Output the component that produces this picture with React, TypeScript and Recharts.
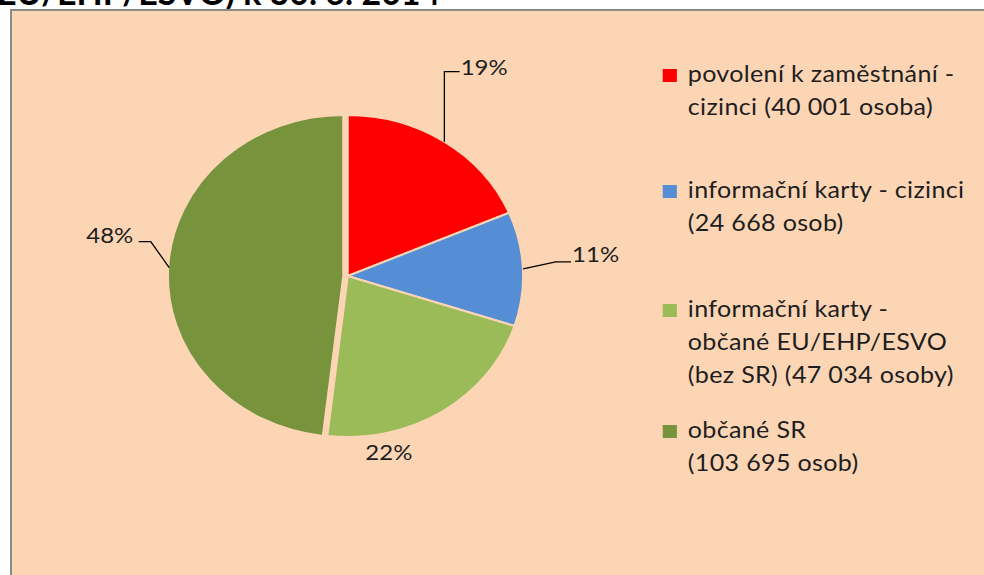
import { PieChart, Pie, Cell, Legend } from 'recharts';

// zaměstnanci podle typu oprávnění k 30. 6. 2014
const categories = [
  'povolení k zaměstnání -\ncizinci (40 001 osoba)',
  'informační karty - cizinci\n(24 668 osob)',
  'informační karty -\nobčané EU/EHP/ESVO\n(bez SR) (47 034 osoby)',
  'občané SR\n(103 695 osob)',
];
const persons = [40001, 24668, 47034, 103695];
const COLORS = ['#FF0000', '#558ED5', '#9BBB59', '#77933C'];

const data = categories.map((name, i) => ({ name, value: persons[i] }));

const BG = '#FCD5B5';
const TEXT = '#1e1e1e';
const FONT = 'Lato, "Open Sans", sans-serif';
const RADIAN = Math.PI / 180;

// leader line points and text offset, relative to the slice's outer mid point
const LABEL_LAYOUT = [
  { path: [[0, 0], [0, -70], [14, -70]], text: [15, -67], anchor: 'start' },
  { path: [[0, 0], [30, -7], [44, -7]], text: [45, -7], anchor: 'start' },
  { path: [], text: [-49, 48], anchor: 'middle' },
  { path: [[-3, 1], [-20, -25], [-31, -25]], text: [-36, -24], anchor: 'end' },
];

const LEGEND_TOPS = [57, 173, 292, 413];

function renderLabel(props: any) {
  const { cx, cy, midAngle, outerRadius, percent, index } = props;
  const ax = cx + outerRadius * Math.cos(-midAngle * RADIAN);
  const ay = cy + outerRadius * Math.sin(-midAngle * RADIAN);
  const l = LABEL_LAYOUT[index];
  const d = l.path.map((p, i) => `${i === 0 ? 'M' : 'L'}${ax + p[0]},${ay + p[1]}`).join(' ');
  return (
    <g key={`lbl-${index}`}>
      {d && <path d={d} stroke="#000" strokeWidth={1.2} fill="none" />}
      <text
        x={ax + l.text[0]}
        y={ay + l.text[1]}
        textAnchor={l.anchor as any}
        fill={TEXT}
        fontSize={22}
        fontFamily={FONT}
      >
        {`${Math.round(percent * 100)}%`}
      </text>
    </g>
  );
}

function renderLegend() {
  return (
    <div style={{ position: 'relative', fontFamily: FONT, fontSize: 23, letterSpacing: 0.3, color: TEXT }}>
      {categories.map((name, i) => (
        <div key={name} style={{ position: 'absolute', top: LEGEND_TOPS[i], left: 0, whiteSpace: 'pre', lineHeight: '33px' }}>
          <span
            style={{
              position: 'absolute',
              left: 0,
              top: 11.5,
              width: 13,
              height: 13,
              background: COLORS[i],
            }}
          />
          <div style={{ marginLeft: 23 }}>{name}</div>
        </div>
      ))}
    </div>
  );
}

export default function App() {
  return (
    <div style={{ position: 'fixed', left: 0, top: 0, width: 984, height: 575, overflow: 'hidden', background: '#fff' }}>
      <div style={{ position: 'absolute', left: 0, top: 0, width: 984, height: 9, overflow: 'hidden' }}>
        <div
          style={{
            position: 'absolute',
            left: -3,
            top: -29,
            fontFamily: FONT,
            fontWeight: 700,
            fontSize: 34,
            whiteSpace: 'nowrap',
            color: '#000',
          }}
        >
          EU/EHP/ESVO) k 30. 6. 2014
        </div>
      </div>
      <div
        style={{
          position: 'absolute',
          left: 10,
          top: 9,
          width: 1000,
          height: 600,
          background: BG,
          borderLeft: '2px solid #8a8a8a',
          borderTop: '2px solid #8a8a8a',
        }}
      />
      <div style={{ position: 'absolute', left: 0, top: 0, width: 903, height: 575, transform: 'scaleX(1.09)', transformOrigin: '0 0' }}>
        <PieChart width={903} height={575} margin={{ top: 0, right: 0, bottom: 0, left: 0 }}>
          <Pie
            data={data}
            dataKey="value"
            nameKey="name"
            cx={319}
            cy={276}
            outerRadius={161}
            startAngle={90}
            endAngle={-270}
            stroke={BG}
            strokeWidth={2}
            label={renderLabel}
            labelLine={false}
            isAnimationActive={false}
          >
            {data.map((d, i) => (
              <Cell key={`a-${i}`} fill={i === 3 ? 'transparent' : COLORS[i]} stroke={i === 3 ? 'none' : BG} />
            ))}
          </Pie>
          <Pie
            data={data}
            dataKey="value"
            nameKey="name"
            cx={315}
            cy={276}
            outerRadius={161}
            startAngle={90}
            endAngle={-270}
            stroke={BG}
            strokeWidth={2}
            legendType="none"
            label={false}
            labelLine={false}
            isAnimationActive={false}
          >
            {data.map((d, i) => (
              <Cell key={`b-${i}`} fill={i === 3 ? COLORS[i] : 'transparent'} stroke={i === 3 ? BG : 'none'} />
            ))}
          </Pie>
          <Legend
            layout="vertical"
            align="right"
            verticalAlign="top"
            content={renderLegend}
            wrapperStyle={{ left: 608, right: 'auto', top: 0, width: 290, height: 575 }}
          />
        </PieChart>
      </div>
    </div>
  );
}
